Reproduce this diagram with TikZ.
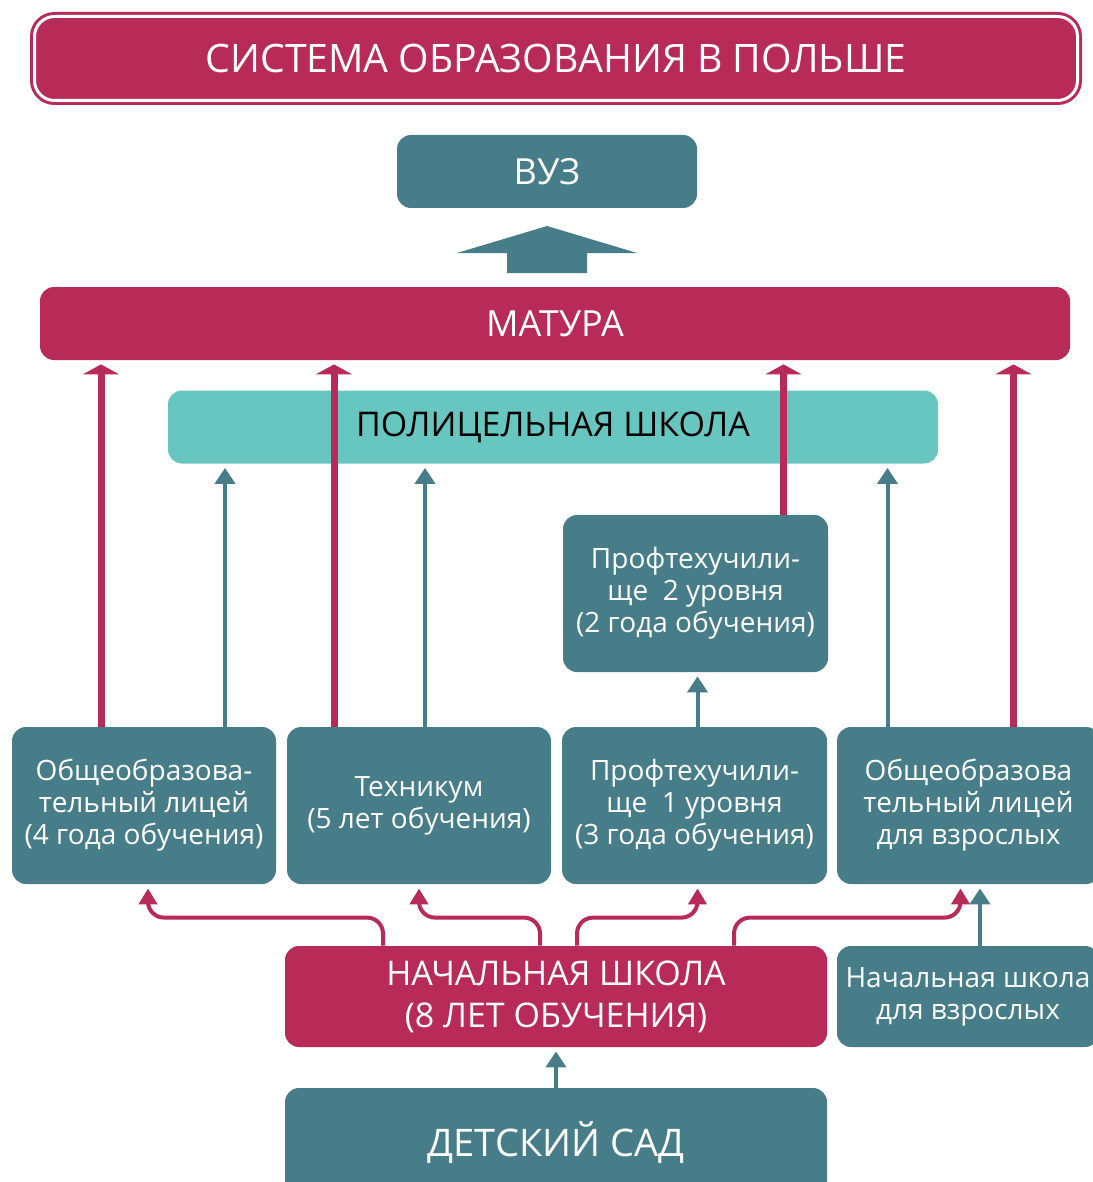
\documentclass[tikz,border=0pt]{standalone}
\usepackage{fontspec}
\setmainfont{Open Sans}
\usetikzlibrary{arrows.meta}
\definecolor{mag}{RGB}{184,42,87}
\definecolor{tealdark}{RGB}{71,125,136}
\definecolor{teallight}{RGB}{103,198,191}
\begin{document}
\begin{tikzpicture}[x=0.5pt,y=-0.5pt,
    box/.style={rounded corners=7pt,inner sep=0pt,align=center,text=white},
    tbox/.style={box,fill=tealdark,font=\fontsize{14}{16}\selectfont},
    mbox/.style={box,fill=mag},
    thickup/.style={draw=mag,line width=3.5pt,-{Triangle[width=18pt,length=5pt]},shorten >=2pt},
    thinup/.style={draw=tealdark,line width=2pt,-{Triangle[width=10pt,length=8pt]},shorten >=2pt},
    bendup/.style={draw=mag,line width=2pt,rounded corners=8pt,-{Triangle[width=9pt,length=8pt]},shorten >=2pt}]
    \useasboundingbox (0,0) rectangle (1092,1182);
    \node[mbox,rounded corners=10pt,draw=mag,line width=1.5pt,double=white,double distance=1.5pt,
        minimum width=521.5pt,minimum height=42pt,font=\fontsize{19.6}{23}\selectfont] (title) at (556,58.5) {СИСТЕМА ОБРАЗОВАНИЯ В ПОЛЬШЕ};
    \node[tbox,minimum width=150pt,minimum height=36.5pt,font=\fontsize{18}{20}\selectfont] (vuz) at (547,171.5) {ВУЗ};
    \fill[tealdark] (457,253) -- (547,226) -- (637,253) -- (587,253) -- (587,273) -- (507,273) -- (507,253) -- cycle;
    \node[mbox,minimum width=515pt,minimum height=36.5pt,font=\fontsize{18}{20}\selectfont] (matura) at (555,323.5) {МАТУРА};
    \node[box,fill=teallight,text=black,minimum width=385pt,minimum height=36.5pt,font=\fontsize{17}{20}\selectfont] (polic) at (553,427) {ПОЛИЦЕЛЬНАЯ ШКОЛА};
    \node[tbox,minimum width=132.5pt,minimum height=78.5pt] (prof2) at (695.5,593.5) {Профтехучили-\\ще\ \ 2 уровня\\(2 года обучения)};
    \node[tbox,minimum width=132pt,minimum height=78.5pt] (lyc) at (144,805.5) {Общеобразова-\\тельный лицей\\(4 года обучения)};
    \node[tbox,minimum width=132pt,minimum height=78.5pt] (tech) at (419,805.5) {Техникум\\(5 лет обучения)};
    \node[tbox,minimum width=132.5pt,minimum height=78.5pt] (prof1) at (694.5,805.5) {Профтехучили-\\ще\ \ 1 уровня\\(3 года обучения)};
    \node[tbox,minimum width=131.5pt,minimum height=78.5pt] (lycad) at (968.5,805.5) {Общеобразова\\тельный лицей\\для взрослых};
    \node[mbox,minimum width=271pt,minimum height=50.5pt,font=\fontsize{17}{21}\selectfont] (prim) at (556,996.5) {НАЧАЛЬНАЯ ШКОЛА\\(8 ЛЕТ ОБУЧЕНИЯ)};
    \node[tbox,minimum width=131pt,minimum height=50.5pt] (primad) at (968,996.5) {Начальная школа\\для взрослых};
    \node[tbox,minimum width=271pt,minimum height=55pt,font=\fontsize{19}{22}\selectfont] (kind) at (556,1143) {ДЕТСКИЙ САД};
    \draw[thickup] ([xshift=-21.5pt]lyc.north) -- ([xshift=-21.5pt]lyc.north |- matura.south);
    \draw[thickup] ([xshift=-42.5pt]tech.north) -- ([xshift=-42.5pt]tech.north |- matura.south);
    \draw[thickup] ([xshift=44pt]prof2.north) -- ([xshift=44pt]prof2.north |- matura.south);
    \draw[thickup] ([xshift=22.5pt]lycad.north) -- ([xshift=22.5pt]lycad.north |- matura.south);
    \draw[thinup] ([xshift=40.5pt]lyc.north) -- ([xshift=40.5pt]lyc.north |- polic.south);
    \draw[thinup] ([xshift=3pt]tech.north) -- ([xshift=3pt]tech.north |- polic.south);
    \draw[thinup] ([xshift=-40.5pt]lycad.north) -- ([xshift=-40.5pt]lycad.north |- polic.south);
    \draw[thinup] ([xshift=1.5pt]prof1.north) -- ([xshift=1.5pt]prof1.north |- prof2.south);
    \draw[bendup] ([xshift=-86.5pt]prim.north) -- ++(0,-28) -| ([xshift=2pt]lyc.south);
    \draw[bendup] ([xshift=-8pt]prim.north) -- ++(0,-28) -| (tech.south);
    \draw[bendup] ([xshift=10.5pt]prim.north) -- ++(0,-28) -| ([xshift=1.5pt]prof1.south);
    \draw[bendup] ([xshift=89pt]prim.north) -- ++(0,-28) -| ([xshift=-4pt]lycad.south);
    \draw[thinup] ([xshift=6pt]primad.north) -- ([xshift=6pt]primad.north |- lycad.south);
    \draw[thinup] (kind.north) -- (prim.south);
\end{tikzpicture}
\end{document}
